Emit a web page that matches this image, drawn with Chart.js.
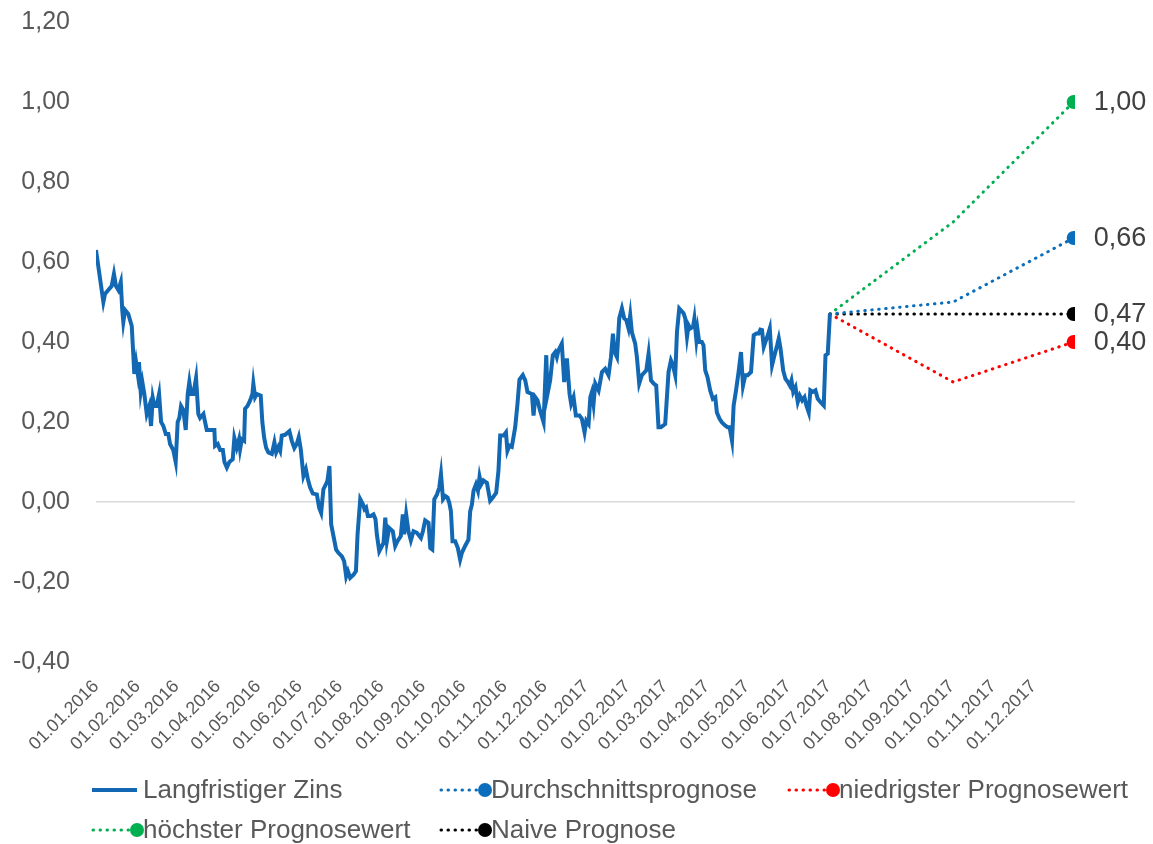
<!DOCTYPE html>
<html lang="de">
<head>
<meta charset="UTF-8">
<title>Langfristiger Zins – Prognosen</title>
<script src="https://cdn.jsdelivr.net/npm/chart.js@4.4.1/dist/chart.umd.min.js"></script>
<style>
  body { margin: 0; background: #fff; }
  #rahmen { width: 1153px; height: 844px; position: relative; }
</style>
</head>
<body>
<div id="rahmen">
  <canvas id="zinsChart"></canvas>
</div>

<script>
// Achsenbeschriftung (Monatsanfänge)
const monatsLabels = ['01.01.2016','01.02.2016','01.03.2016','01.04.2016','01.05.2016','01.06.2016',
  '01.07.2016','01.08.2016','01.09.2016','01.10.2016','01.11.2016','01.12.2016',
  '01.01.2017','01.02.2017','01.03.2017','01.04.2017','01.05.2017','01.06.2017',
  '01.07.2017','01.08.2017','01.09.2017','01.10.2017','01.11.2017','01.12.2017'];

// Langfristiger Zins: Tage seit 01.01.2016 und Wert in %
const zinsTage = [0,5.5,6.7,9.2,11.7,13.4,14.9,16.7,18.5,19.6,20.4,21.7,24.1,26.7,28.6,29.9,31.2,32.1,33.4,34.6,
  36.1,37.9,39.8,41.1,42.4,43.6,45.3,47.1,48.6,50.3,52.1,54,55.3,57.7,59.5,61,62.2,63.5,65.2,67,
  68.5,69.7,71,72.7,74.7,76.4,77.7,80.2,82.7,86.4,88.4,88.9,90.9,92.7,94.7,95.9,97.7,99.6,102.1,103.3,
  105.1,106.8,107.6,108.9,110.6,111.3,113.1,115.1,116.8,117.5,118.8,120.1,123,124.2,125.5,127,128.7,131.3,133.2,134.5,
  136.2,137.5,138.7,141.2,144.4,146.2,148.1,149.9,151.4,152.9,154.9,156.7,158.2,159.9,161.9,164.9,166.6,168.1,169.8,171.9,
  172.8,174.3,175.6,177.3,179.3,181,183.6,185.3,186.8,188.1,189.8,192.3,194.1,195.3,197.3,199.3,200.5,201.7,203,205.2,
  207.2,208.7,209.7,211.5,213.5,214.7,216,217.2,218.9,221.6,223.4,225.1,227.6,229.1,230.1,231.6,233.3,235.1,237.1,239.6,
  242.6,244.1,245.8,248.3,249.6,251.1,252.6,254.6,256.3,257.6,259.1,260.8,262.5,263.8,265,266.2,268.2,270.2,271.9,273.2,
  275.6,278.1,279.4,280.7,281.9,283.7,285.2,286.4,287.6,289.3,291.9,294.3,296.3,298.8,300.5,301.8,304.3,306.1,307.2,308.7,
  310.5,313,314.7,316.2,318.7,320.5,322.2,325.5,326.7,328,329.7,331.2,334.2,336.2,337.1,339.1,341.1,342.9,344.1,345.3,
  347.8,349.6,351.6,353.6,354.8,356.6,358.3,361,362.8,364.8,366.1,367.8,369.1,370.3,371.5,372.8,375.3,377.8,380.2,382.7,
  384.5,386,387.2,389,390.7,392.7,394.4,395.9,397.6,398.9,400.1,402.6,403.9,405.6,407.6,410.9,412.6,414.4,416.4,418.3,
  420,421.8,425,427.5,429.3,430.8,432.5,433.8,435.5,438.7,440,441.3,442.5,443.8,445.8,446.8,448.3,449.2,450.4,452.4,
  453.6,454.9,456.6,458.6,460.6,462.4,463.6,465.6,467.4,469.9,471.6,473.1,474.9,476.1,477.9,479.8,481.6,483.1,484.8,486.6,
  489.1,491.1,493.1,494.8,496.1,497.3,498.6,499.8,501.6,503.1,504.8,506.6,508.6,509.8,511.1,513.1,514.8,516.6,518.1,519.3,
  520.6,522.3,524,525.5,527.3,529,530.5,532.2,533.4,535.2,537.2,538.9,540.9,543.4,544.7,546.4,548];
const zinsWerte = [0.63,0.50,0.52,0.53,0.54,0.57,0.54,0.53,0.55,0.48,0.45,0.48,0.47,0.44,0.32,0.35,0.32,0.35,0.275,0.30,
  0.27,0.22,0.24,0.19,0.26,0.24,0.24,0.27,0.20,0.19,0.17,0.17,0.145,0.13,0.10,0.20,0.21,0.24,0.23,0.18,
  0.27,0.30,0.27,0.27,0.31,0.22,0.21,0.22,0.18,0.18,0.18,0.14,0.145,0.13,0.13,0.10,0.086,0.10,0.107,0.16,
  0.136,0.157,0.132,0.157,0.153,0.233,0.24,0.254,0.27,0.296,0.262,0.27,0.266,0.20,0.162,0.136,0.124,0.12,0.149,0.124,
  0.138,0.128,0.166,0.168,0.177,0.153,0.135,0.145,0.162,0.132,0.065,0.082,0.057,0.036,0.021,0.019,-0.014,-0.027,0.032,0.046,
  0.053,0.09,-0.056,-0.085,-0.119,-0.127,-0.136,-0.148,-0.186,-0.173,-0.19,-0.182,-0.173,-0.081,0.007,-0.006,-0.018,-0.014,-0.035,-0.035,
  -0.031,-0.043,-0.081,-0.123,-0.11,-0.102,-0.039,-0.098,-0.065,-0.073,-0.11,-0.098,-0.085,-0.031,-0.081,-0.031,-0.073,-0.096,-0.073,-0.077,
  -0.09,-0.073,-0.046,-0.052,-0.115,-0.119,0.007,0.019,0.036,0.07,0.007,0.015,0.011,-0.002,-0.023,-0.098,-0.098,-0.115,-0.144,-0.127,
  -0.11,-0.094,-0.023,-0.006,0.028,0.044,0.028,0.063,0.044,0.054,0.048,0.003,0.011,0.023,0.078,0.166,0.166,0.174,0.128,0.141,
  0.138,0.187,0.245,0.306,0.317,0.304,0.275,0.27,0.216,0.262,0.254,0.233,0.199,0.367,0.27,0.304,0.367,0.375,0.362,0.379,
  0.396,0.30,0.359,0.27,0.245,0.262,0.216,0.216,0.208,0.174,0.203,0.195,0.262,0.275,0.245,0.296,0.279,0.325,0.333,0.317,
  0.362,0.421,0.375,0.362,0.459,0.484,0.459,0.455,0.434,0.467,0.425,0.396,0.362,0.296,0.317,0.329,0.371,0.304,0.296,0.291,
  0.187,0.187,0.195,0.325,0.354,0.342,0.317,0.425,0.484,0.472,0.459,0.413,0.442,0.434,0.438,0.459,0.405,0.43,0.40,0.40,
  0.392,0.329,0.312,0.279,0.258,0.262,0.224,0.208,0.199,0.191,0.187,0.187,0.153,0.241,0.279,0.325,0.375,0.291,0.317,0.317,
  0.325,0.417,0.421,0.421,0.431,0.43,0.388,0.40,0.417,0.434,0.342,0.367,0.392,0.409,0.384,0.329,0.308,0.30,0.291,0.304,
  0.275,0.287,0.25,0.266,0.254,0.262,0.241,0.224,0.279,0.275,0.279,0.258,0.25,0.241,0.367,0.371,0.47];

// Prognosen: Start (30.06.2017), 30.09.2017, 31.12.2017
const prognoseTage = [548, 640, 730];
const durchschnitt = [0.47, 0.50, 0.66];
const niedrigster  = [0.47, 0.30, 0.40];
const hoechster    = [0.47, 0.70, 1.00];
const naiv         = [0.47, 0.47, 0.47];

const START = Date.UTC(2016, 0, 1);
const TAG = 86400000;

function parseDatum(s) {
  const [d, m, y] = s.split('.').map(Number);
  return Math.round((Date.UTC(y, m - 1, d) - START) / TAG);
}
function formatDatum(t) {
  const d = new Date(START + Math.round(t) * TAG);
  const p = n => String(n).padStart(2, '0');
  return p(d.getUTCDate()) + '.' + p(d.getUTCMonth() + 1) + '.' + d.getUTCFullYear();
}
function zahl(v) {
  if (Math.abs(v) < 1e-9) v = 0;
  return v.toFixed(2).replace('.', ',');
}
function punkte(tage, werte) {
  return tage.map((t, i) => ({ x: t, y: werte[i] }));
}

const FONT = '"Liberation Sans", Arial, sans-serif';
const GRAU = '#595959';

function prognose(label, farbe, werte) {
  return {
    label: label,
    data: punkte(prognoseTage, werte),
    borderColor: farbe,
    backgroundColor: farbe,
    borderWidth: 3,
    borderDash: [0.5, 6.5],
    borderCapStyle: 'round',
    pointRadius: ctx => ctx.dataIndex === werte.length - 1 ? 7 : 0,
    pointBorderWidth: 0,
    pointBackgroundColor: farbe,
    endLabel: true
  };
}

// Werte rechts neben dem letzten Prognosepunkt
const endLabels = {
  id: 'endLabels',
  afterDatasetsDraw(chart) {
    const ctx = chart.ctx;
    ctx.save();
    ctx.font = '27px ' + FONT;
    ctx.fillStyle = '#404040';
    ctx.textAlign = 'left';
    ctx.textBaseline = 'middle';
    chart.data.datasets.forEach((ds, i) => {
      if (!ds.endLabel) return;
      const meta = chart.getDatasetMeta(i);
      const p = meta.data[meta.data.length - 1];
      ctx.fillText(zahl(ds.data[ds.data.length - 1].y), p.x + 20, p.y + 1);
    });
    ctx.restore();
  }
};

// Legende im Raster wie im Original (3 Spalten)
const rasterLegende = {
  id: 'rasterLegende',
  afterDraw(chart) {
    const ctx = chart.ctx;
    chart.data.datasets.forEach((ds, i) => {
      const x0 = 92 + (i % 3) * 348;
      const y = 790 + Math.floor(i / 3) * 40;
      ctx.save();
      ctx.strokeStyle = ds.borderColor;
      ctx.lineWidth = ds.borderWidth;
      ctx.beginPath();
      if (ds.endLabel) {
        ctx.setLineDash(ds.borderDash);
        ctx.lineCap = 'round';
        ctx.moveTo(x0 + 1, y);
        ctx.lineTo(x0 + 40, y);
      } else {
        ctx.moveTo(x0, y);
        ctx.lineTo(x0 + 45, y);
      }
      ctx.stroke();
      ctx.setLineDash([]);
      ctx.font = '26px ' + FONT;
      ctx.fillStyle = GRAU;
      ctx.textBaseline = 'middle';
      ctx.fillText(ds.label, x0 + 51, y + 1);
      if (ds.endLabel) {
        ctx.fillStyle = ds.borderColor;
        ctx.beginPath();
        ctx.arc(x0 + 45, y, 7, 0, Math.PI * 2);
        ctx.fill();
      }
      ctx.restore();
    });
  }
};

new Chart(document.getElementById('zinsChart'), {
  type: 'line',
  data: {
    datasets: [
      {
        label: 'Langfristiger Zins',
        data: punkte(zinsTage, zinsWerte),
        borderColor: '#1268b3',
        backgroundColor: '#1268b3',
        borderWidth: 4,
        pointRadius: 0,
        tension: 0
      },
      prognose('Durchschnittsprognose', '#0a6ebd', durchschnitt),
      prognose('niedrigster Prognosewert', '#ff0000', niedrigster),
      prognose('höchster Prognosewert', '#00b050', hoechster),
      prognose('Naive Prognose', '#000000', naiv)
    ]
  },
  options: {
    responsive: true,
    maintainAspectRatio: false,
    animation: false,
    layout: { padding: { top: 22, right: 78, bottom: 82, left: 0 } },
    plugins: {
      legend: { display: false },
      tooltip: { enabled: false }
    },
    scales: {
      x: {
        type: 'linear',
        min: 0,
        max: 731,
        grid: { display: false },
        border: { display: false },
        afterBuildTicks: scale => {
          scale.ticks = monatsLabels.map(s => ({ value: parseDatum(s) }));
        },
        afterFit: scale => { scale.height = 100; },
        ticks: {
          autoSkip: false,
          minRotation: 45,
          maxRotation: 45,
          padding: 6,
          color: GRAU,
          font: { family: FONT, size: 18 },
          callback: v => formatDatum(v)
        }
      },
      y: {
        min: -0.4,
        max: 1.2,
        grid: {
          drawTicks: false,
          color: ctx => Math.abs(ctx.tick.value) < 1e-9 ? '#d9d9d9' : 'rgba(0,0,0,0)',
          lineWidth: 1.5
        },
        border: { display: false },
        afterFit: scale => {
          scale.width = 96;
          // Abstand der Beschriftung soll die Zeichenfläche nicht verkleinern
          scale.paddingTop = 0;
          scale.paddingBottom = 0;
        },
        ticks: {
          stepSize: 0.2,
          padding: 26,
          color: GRAU,
          font: { family: FONT, size: 25 },
          callback: v => zahl(v)
        }
      }
    }
  },
  plugins: [endLabels, rasterLegende]
});
</script>
</body>
</html>
